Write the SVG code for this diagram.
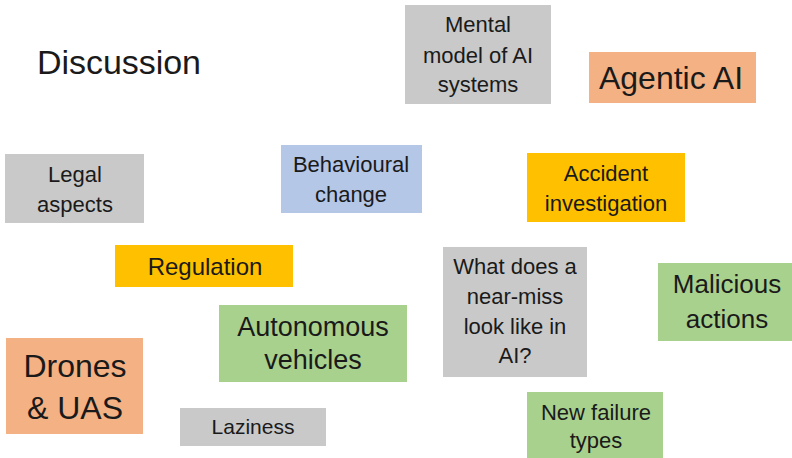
<svg xmlns="http://www.w3.org/2000/svg" width="792" height="458" viewBox="0 0 792 458">
<style>
text{font-family:"Liberation Sans",Arial,sans-serif;fill:#1a1a1a;text-anchor:middle}
.gray{fill:#c9c9c9}
.blue{fill:#b4c7e7}
.orange{fill:#f4b183}
.yellow{fill:#ffc000}
.green{fill:#a9d18e}
.s22{font-size:22px}
</style>
<rect width="792" height="458" fill="#ffffff"/>
<g id="title"><text x="37" y="74" font-size="34" style="text-anchor:start" textLength="164">Discussion</text></g>
<g id="mental-model">
<rect class="gray" x="405" y="5" width="146" height="99"/>
<text class="s22" x="478" y="32">Mental</text>
<text class="s22" x="478" y="63">model of AI</text>
<text class="s22" x="478" y="92">systems</text>
</g>
<g id="agentic-ai">
<rect class="orange" x="589" y="52" width="167" height="51"/>
<text x="671" y="89" font-size="32">Agentic AI</text>
</g>
<g id="legal-aspects">
<rect class="gray" x="5" y="154" width="139" height="69"/>
<text class="s22" x="75" y="182">Legal</text>
<text class="s22" x="75" y="212">aspects</text>
</g>
<g id="behavioural-change">
<rect class="blue" x="281" y="145" width="141" height="68"/>
<text class="s22" x="351" y="172">Behavioural</text>
<text class="s22" x="351" y="202">change</text>
</g>
<g id="accident-investigation">
<rect class="yellow" x="527" y="153" width="158" height="69"/>
<text class="s22" x="606" y="181">Accident</text>
<text class="s22" x="606" y="211">investigation</text>
</g>
<g id="regulation">
<rect class="yellow" x="115" y="245" width="178" height="42"/>
<text x="205" y="275" font-size="24">Regulation</text>
</g>
<g id="near-miss">
<rect class="gray" x="443" y="247" width="144" height="130"/>
<text class="s22" x="515" y="274">What does a</text>
<text class="s22" x="515" y="304">near-miss</text>
<text class="s22" x="515" y="334">look like in</text>
<text class="s22" x="515" y="363">AI?</text>
</g>
<g id="malicious-actions">
<rect class="green" x="658" y="263" width="134" height="78"/>
<text x="727" y="293" font-size="26">Malicious</text>
<text x="727" y="328" font-size="26">actions</text>
</g>
<g id="autonomous-vehicles">
<rect class="green" x="219" y="305" width="188" height="77"/>
<text x="313" y="336" font-size="27">Autonomous</text>
<text x="313" y="369" font-size="27">vehicles</text>
</g>
<g id="drones-uas">
<rect class="orange" x="6" y="338" width="137" height="96"/>
<text x="75" y="377" font-size="32">Drones</text>
<text x="75" y="419" font-size="32">&amp; UAS</text>
</g>
<g id="laziness">
<rect class="gray" x="180" y="408" width="146" height="38"/>
<text x="253" y="434" font-size="21">Laziness</text>
</g>
<g id="new-failure-types">
<rect class="green" x="527" y="392" width="136" height="70"/>
<text class="s22" x="596" y="420">New failure</text>
<text class="s22" x="596" y="448">types</text>
</g>
</svg>
